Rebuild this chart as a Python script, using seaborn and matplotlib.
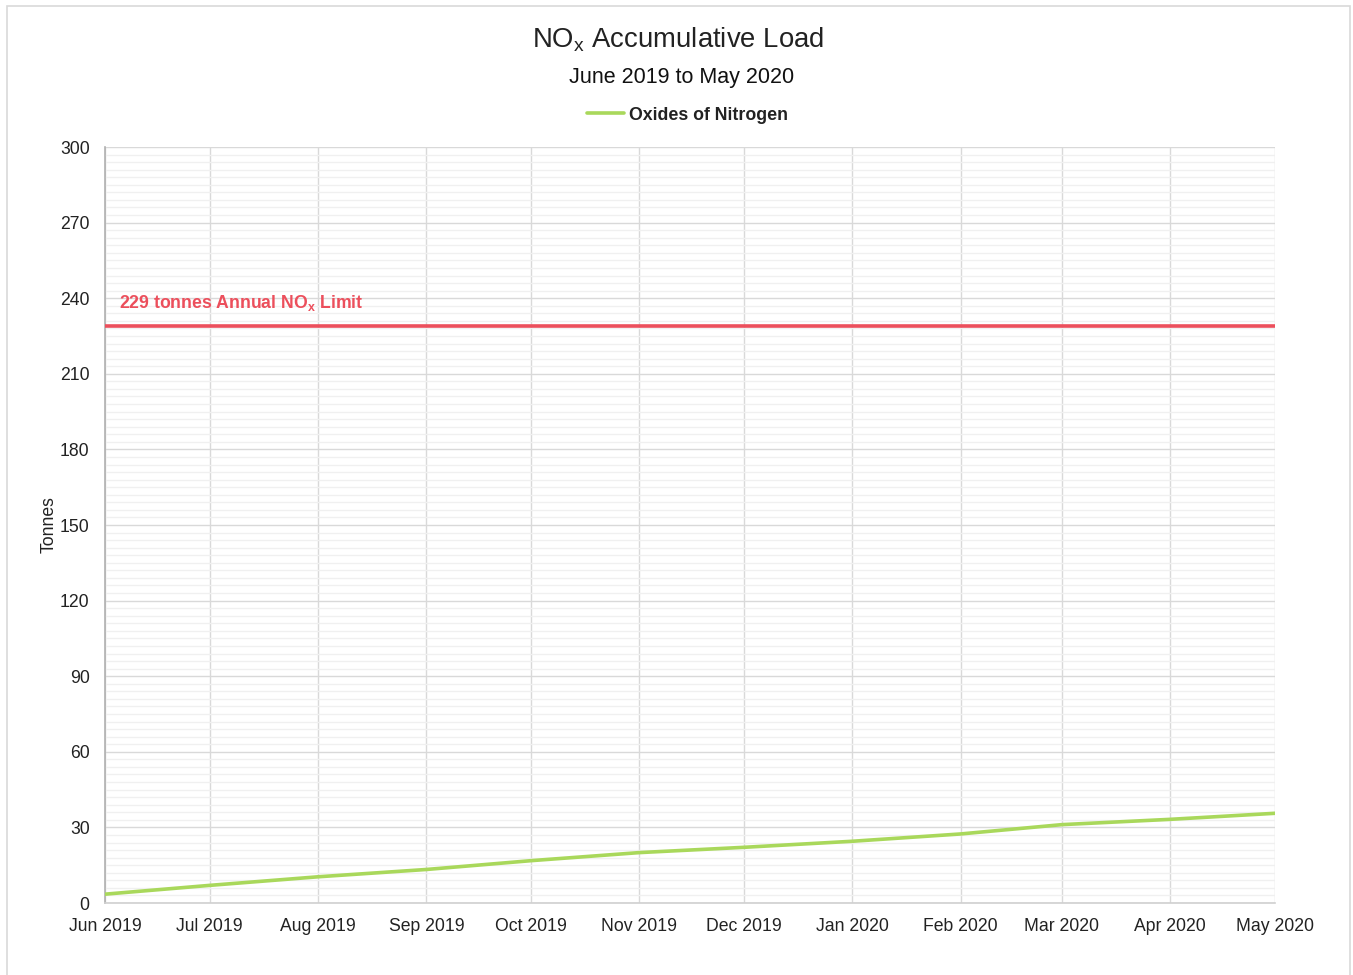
import matplotlib
matplotlib.use("Agg")
import matplotlib.pyplot as plt
import matplotlib.dates as mdates
from matplotlib.ticker import MultipleLocator
from matplotlib.patches import Rectangle
from matplotlib.lines import Line2D
import seaborn as sns
import pandas as pd

months = ["2019-06-01", "2019-07-01", "2019-08-01", "2019-09-01", "2019-10-01",
          "2019-11-01", "2019-12-01", "2020-01-01", "2020-02-01", "2020-03-01",
          "2020-04-01", "2020-05-01"]
nox_load = [3.5, 7.0, 10.4, 13.3, 16.8, 20.0, 22.1, 24.5, 27.4, 31.1, 33.2, 35.6]
annual_limit = 229
series_name = "Oxides of Nitrogen"

df = pd.DataFrame({"Month": pd.to_datetime(months), "Tonnes": nox_load,
                   "Series": series_name})

sns.set_theme(style="white")
plt.rcParams['font.family'] = ['Liberation Sans', 'DejaVu Sans']

fig = plt.figure(figsize=(13.53, 9.75), dpi=100)
ax = fig.add_axes([105/1353, 1-903/975, (1275-105)/1353, (903-147)/975])

green = "#A9D85B"
red = "#EC4F5C"

sns.lineplot(data=df, x="Month", y="Tonnes", hue="Series", palette=[green],
             linewidth=2.6, ax=ax, legend=False, zorder=3)
ax.axhline(annual_limit, color=red, linewidth=2.6, zorder=3)

ax.set_ylim(0, 300)
ax.set_xlim(df["Month"].iloc[0], df["Month"].iloc[-1])
ax.yaxis.set_major_locator(MultipleLocator(30))
ax.yaxis.set_minor_locator(MultipleLocator(3))
ax.xaxis.set_major_locator(mdates.MonthLocator())
ax.xaxis.set_major_formatter(mdates.DateFormatter("%b %Y"))

ax.grid(which="major", color="#d9d9d9", linewidth=1.0, zorder=0)
ax.grid(which="minor", axis="y", color="#f0f0f0", linewidth=1.0, zorder=0)
ax.set_axisbelow(True)

for s in ["top", "right"]:
    ax.spines[s].set_visible(False)
ax.spines["left"].set_color("#b0b0b0")
ax.spines["bottom"].set_color("#d0d0d0")
ax.spines["left"].set_linewidth(1.2)
ax.spines["bottom"].set_linewidth(1.2)

ax.tick_params(axis="both", which="both", length=0, labelsize=12.7, colors="#222222")
ax.tick_params(axis="y", pad=11)
ax.tick_params(axis="x", pad=11)
ax.set_xlabel("")
ax.set_ylabel("Tonnes", fontsize=12.7, color="#222222", labelpad=2)

ax.text(df["Month"].iloc[0] + pd.Timedelta(days=4), annual_limit + 5,
        r"229 tonnes Annual NO$_\mathregular{x}$ Limit", color=red,
        fontsize=12.7, fontweight="bold", va="bottom", ha="left")

fig.text(0.5015, 1-40/975, r"NO$_\mathregular{x}$ Accumulative Load", ha="center",
         va="center", fontsize=19.8, color="#222222")
fig.text(0.504, 1-78/975, "June 2019 to May 2020", ha="center", va="center",
         fontsize=15.5, color="#111111")

handle = Line2D([0], [0], color=green, linewidth=2.6)
leg = fig.legend([handle], [series_name], loc="center",
                 bbox_to_anchor=(0.508, 1-115/975), frameon=False,
                 prop={"size": 12.8, "weight": "bold"}, handlelength=2.1,
                 handletextpad=0.25)
for t in leg.get_texts():
    t.set_color("#222222")

fig.patches.append(Rectangle((7/1353, -0.01), (1350-7)/1353, 1.01-6/975,
                             transform=fig.transFigure, fill=False,
                             edgecolor="#d9d9d9", linewidth=1.2))

fig.savefig("out.png", dpi=100, facecolor="white")
